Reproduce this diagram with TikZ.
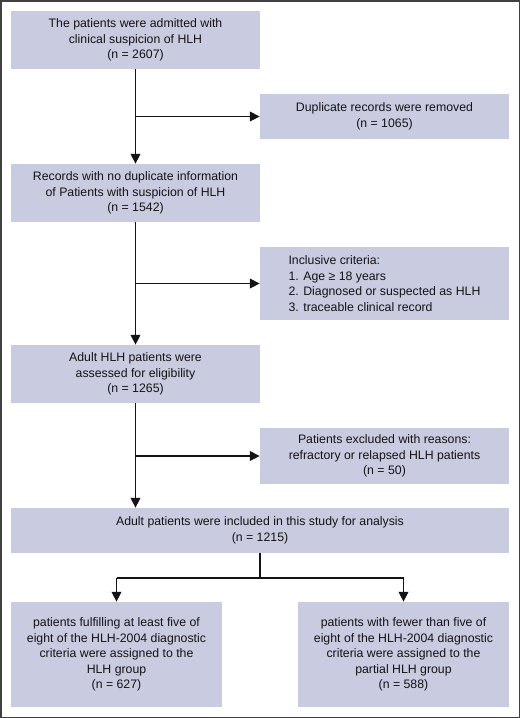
\documentclass[tikz,border=0pt]{standalone}
\usepackage{fontspec}
\setmainfont{Liberation Sans}
\usetikzlibrary{arrows.meta}
\definecolor{boxfill}{RGB}{201,203,224}
\definecolor{ink}{RGB}{20,20,20}
\tikzset{
    stagebox/.style={draw=none, fill=boxfill, align=center, text=ink, inner sep=0pt,
        minimum width=249, font=\fontsize{12.3}{15.5}\selectfont},
    flow/.style={line width=1.8, draw=ink, -{Triangle[length=10,width=9.5]}},
}
\begin{document}
\begin{tikzpicture}[x=1pt, y=-1pt]
    \useasboundingbox (0,0) rectangle (520,718);
    \draw[line width=1.5, draw=black!75] (0.75,0.75) rectangle (519.25,717.25);
    \def\lx{135.5}
    \def\rx{384.5}
    % left column of stages
    \node[stagebox, minimum height=58] (admitted) at (\lx,40)
        {The patients were admitted with\\clinical suspicion of HLH\\(n = 2607)};
    \node[stagebox, minimum height=58] (records) at (\lx,193)
        {Records with no duplicate information\\of Patients with suspicion of HLH\\(n = 1542)};
    \node[stagebox, minimum height=58] (assessed) at (\lx,374)
        {Adult HLH patients were\\assessed for eligibility\\(n = 1265)};
    % right column, side boxes
    \node[stagebox, minimum height=45] (duplicate) at (\rx,116.5)
        {Duplicate records were removed\\(n = 1065)};
    \node[stagebox, minimum height=73, align=left] (inclusive) at (\rx,283.5)
        {Inclusive criteria:\\1. Age ≥ 18 years\\2. Diagnosed or suspected as HLH\\3. traceable clinical record};
    \node[stagebox, minimum height=56] (excluded) at (\rx,456)
        {Patients excluded with reasons:\\refractory or relapsed HLH patients\\(n = 50)};
    % wide box and the two groups
    \node[stagebox, minimum height=45, minimum width=498] (included) at (260,530.5)
        {Adult patients were included in this study for analysis\\(n = 1215)};
    \node[stagebox, minimum height=105, minimum width=211] (hlh) at (116.5,654.5)
        {patients fulfilling at least five of\\eight of the HLH-2004 diagnostic\\criteria were assigned to the\\HLH group\\(n = 627)};
    \node[stagebox, minimum height=105, minimum width=211] (partial) at (403.5,654.5)
        {patients with fewer than five of\\eight of the HLH-2004 diagnostic\\criteria were assigned to the\\partial HLH group\\(n = 588)};
    % main line with the side branches
    \draw[flow] (admitted) -- (records);
    \draw[flow] (admitted.south |- duplicate.west) -- (duplicate.west);
    \draw[flow] (records) -- (assessed);
    \draw[flow] (records.south |- inclusive.west) -- (inclusive.west);
    \draw[flow] (assessed) -- (included.north -| assessed);
    \draw[flow] (assessed.south |- excluded.west) -- (excluded.west);
    % split into the two groups
    \draw[line width=1.8, draw=ink] (included.south) -- ++(0,25) coordinate (split);
    \draw[line width=1.8, draw=ink] (split -| hlh) -- (split -| partial);
    \draw[flow] (split -| hlh) -- (hlh);
    \draw[flow] (split -| partial) -- (partial);
\end{tikzpicture}
\end{document}
